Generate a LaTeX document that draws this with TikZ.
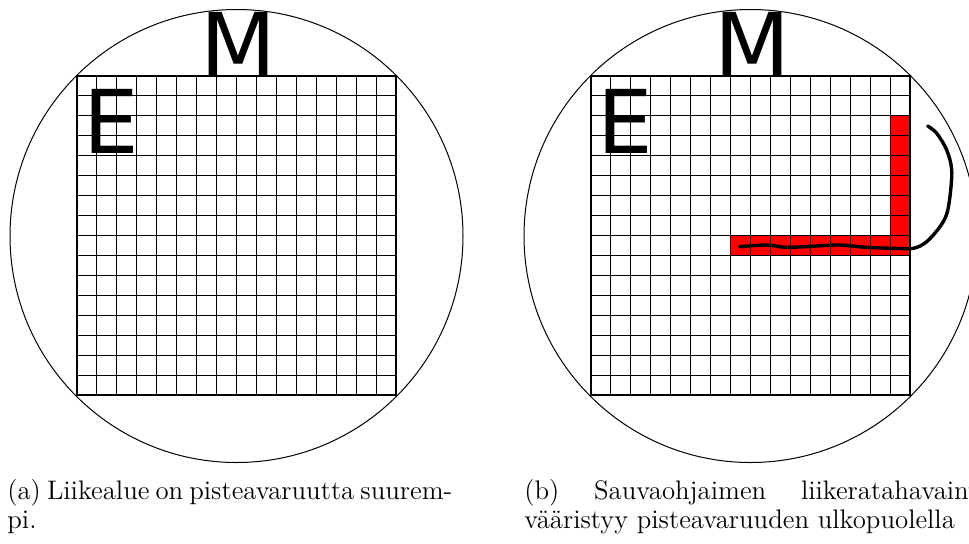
\documentclass[tikz,border=0pt]{standalone}
\usepackage{fontspec}
\newfontfamily\letterfont{DejaVu Sans}
\tikzset{
  gridline/.style={line width=0.55pt, black},
  ringline/.style={line width=0.5pt, black},
  bigletter/.style={inner sep=0pt, font=\letterfont\fontsize{44pt}{44pt}\selectfont},
  captext/.style={inner sep=0pt, font=\fontsize{13.4pt}{16pt}\selectfont, anchor=base west},
  trail/.style={line width=1.7pt, black, line cap=round, line join=round},
}
\begin{document}
\begin{tikzpicture}[x=0.5pt,y=-0.5pt]
\useasboundingbox (0,0) rectangle (969,543);
\clip (0,0) rectangle (969,543);
% red highlighted cells (right panel)
\fill[red] (890.06,115.9) rectangle (910,255.4);
\fill[red] (730.6,235.5) rectangle (910,255.4);
\foreach \ox/\nm in {0/a,514/b}{
  \draw[ringline] ({\ox+236.5},236) circle[radius=226.5];
  \foreach \i in {0,...,16}{
    \draw[gridline] ({\ox+77+\i*19.9375},76) -- ({\ox+77+\i*19.9375},396);
    \draw[gridline] ({\ox+77},{76+\i*19.9375}) -- ({\ox+396},{76+\i*19.9375});
  }
  \node[bigletter, anchor=base] (M\nm) at ({\ox+238.5},76) {M};
  \node[bigletter, anchor=base west] (E\nm) at ({\ox+83.4},153) {E};
}
% trajectory
\draw[trail] plot[smooth, tension=0.55] coordinates {
  (740,246.7) (766.7,245) (786.7,247.3) (816.7,246) (840,245) (866.7,247.3)
  (893.3,248.3) (913.3,248.3) (926.7,241.7) (940,226.7) (946.7,214)
  (950,196) (951.7,170) (946.7,150) (936.7,133.3) (927.7,126)};
% captions
\node[captext] (capa1) at (7,499) {\makebox[222.5pt][s]{(a) Liikealue on pisteavaruutta suurem-}};
\node[captext] (capa2) at (7,528) {pi.};
\node[captext] (capb1) at (524,499) {\makebox[233.5pt][s]{(b) Sauvaohjaimen liikeratahavainto}};
\node[captext] (capb2) at (524,528) {vääristyy pisteavaruuden ulkopuolella};
\end{tikzpicture}
\end{document}
